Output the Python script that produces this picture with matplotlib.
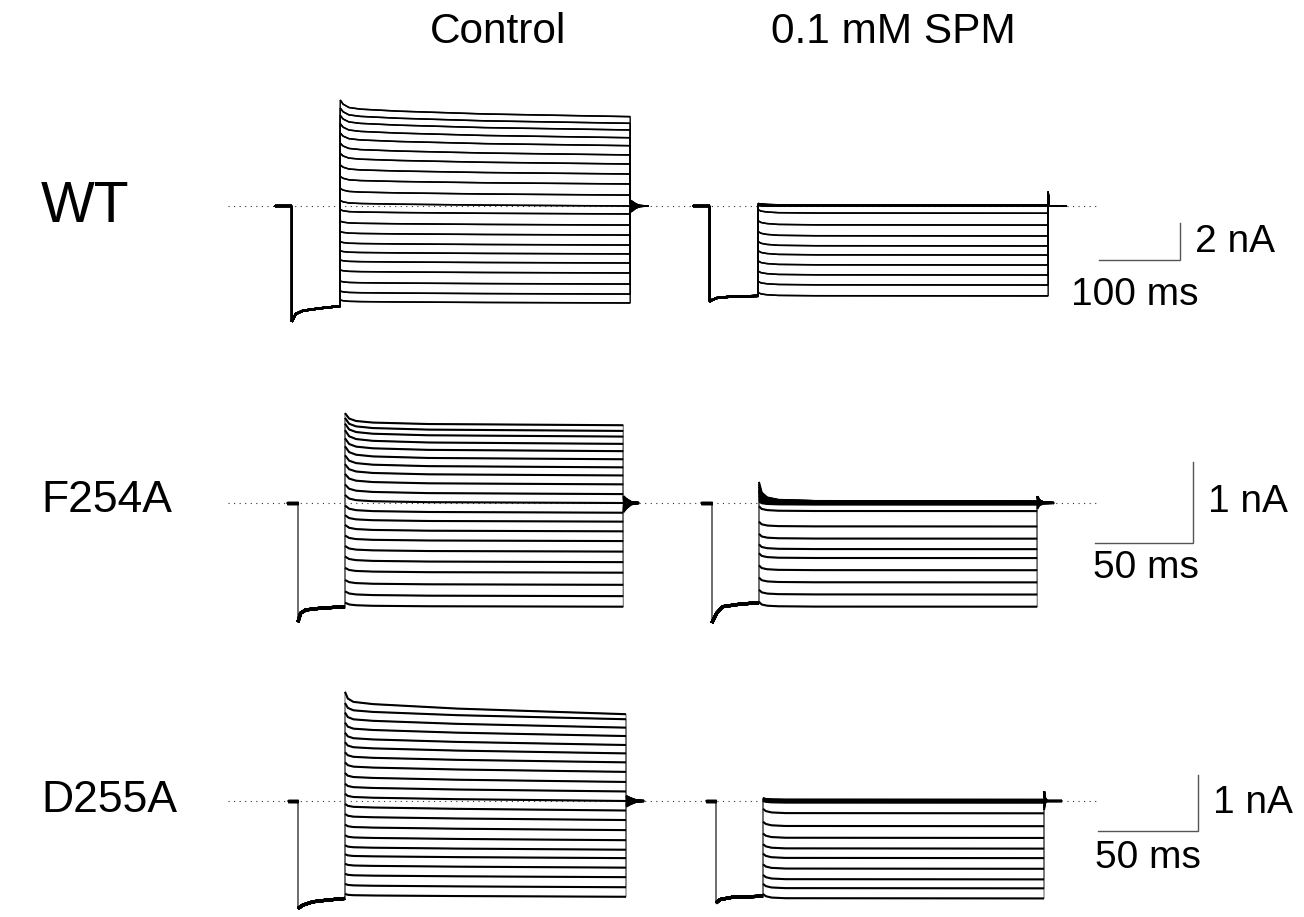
import numpy as np
import matplotlib
matplotlib.use("Agg")
import matplotlib.pyplot as plt

plt.rcParams['font.family'] = ['Liberation Sans', 'DejaVu Sans']

FIG_W, FIG_H, DPI = 1304, 917, 100

# ---------------------------------------------------------------------------
# Voltage protocol durations (ms): holding, prepulse, test pulse, return
# ---------------------------------------------------------------------------
wt_protocol = [20, 60, 358, 22]
f254a_protocol = [5.5, 24, 142, 8]
d255a_protocol = [5, 23.5, 140.5, 9]

# ---------------------------------------------------------------------------
# WT  (currents in nA)
# ---------------------------------------------------------------------------
wt_ctrl_pre_t = [0, 1.5, 5, 14, 35, 60]
wt_ctrl_pre_i = [-6.25, -6.15, -5.84, -5.66, -5.53, -5.41]
wt_ctrl_onset = [5.73, 5.30, 4.90, 4.45, 3.95, 3.40, 2.85, 2.22, 1.60, 0.95, 0.30,
                 -0.20, -0.82, -1.38, -1.93, -2.42, -2.92, -3.46, -4.06, -4.60, -5.08]
wt_ctrl_end = [4.83, 4.47, 4.11, 3.69, 3.26, 2.76, 2.27, 1.73, 1.19, 0.59, 0.00,
               -0.43, -1.03, -1.57, -2.11, -2.59, -3.08, -3.62, -4.22, -4.76, -5.24]
wt_ctrl_relax_t = [0, 0.01, 0.03, 0.07, 0.2, 0.5, 1.0]
wt_ctrl_relax_g = [1, 0.75, 0.55, 0.45, 0.33, 0.16, 0]
wt_ctrl_tail = (0.0, 0.065)              # offset, fraction of test current
wt_ctrl_post_t = [0, 3, 7, 12, 22]
wt_ctrl_post_h = [1, 0.75, 0.35, 0.08, 0]

wt_spm_pre_t = [0, 3, 10, 27, 60]
wt_spm_pre_i = [-5.17, -5.08, -4.96, -4.90, -4.86]
wt_spm_onset = [0.14, 0.13, 0.12, 0.11, 0.10, 0.09, 0.08, 0.07, 0.06, 0.05, 0.04, 0.03,
                -0.20, -0.80, -1.38, -1.92, -2.42, -2.97, -3.52, -4.08, -4.68]
wt_spm_end = [0.05, 0.05, 0.04, 0.04, 0.03, 0.03, 0.02, 0.02, 0.01, 0.01, 0.00, -0.01,
              -0.39, -1.03, -1.62, -2.16, -2.65, -3.19, -3.73, -4.27, -4.86]
wt_spm_relax_t = [0, 0.01, 0.03, 0.07, 0.2, 1.0]
wt_spm_relax_g = [1, 0.6, 0.35, 0.15, 0.05, 0]
wt_spm_tail = (0.76, 0.0)
wt_spm_post_t = [0, 0.8, 22]
wt_spm_post_h = [1, 0, 0]

# ---------------------------------------------------------------------------
# F254A
# ---------------------------------------------------------------------------
f254a_ctrl_pre_t = [0, 1.4, 4, 11, 24]
f254a_ctrl_pre_i = [-1.47, -1.36, -1.32, -1.30, -1.28]
f254a_ctrl_onset = [1.11, 1.05, 0.98, 0.90, 0.80, 0.70, 0.59, 0.48, 0.36, 0.23, 0.10,
                    -0.03, -0.15, -0.27, -0.40, -0.53, -0.66, -0.80, -0.95, -1.09, -1.23]
f254a_ctrl_end = [0.96, 0.89, 0.82, 0.73, 0.64, 0.54, 0.44, 0.34, 0.23, 0.11, 0.00,
                  -0.12, -0.23, -0.35, -0.47, -0.60, -0.73, -0.86, -1.01, -1.15, -1.28]
f254a_ctrl_relax_t = [0, 0.015, 0.04, 0.1, 0.3, 1.0]
f254a_ctrl_relax_g = [1, 0.55, 0.35, 0.22, 0.1, 0]
f254a_ctrl_tail = (0.0, 0.09)
f254a_ctrl_post_t = [0, 1.5, 4, 8]
f254a_ctrl_post_h = [1, 0.6, 0.15, 0]

f254a_spm_pre_t = [0, 2.5, 5.5, 14, 24]
f254a_spm_pre_i = [-1.48, -1.36, -1.28, -1.25, -1.23]
f254a_spm_onset = [0.26, 0.23, 0.20, 0.17, 0.15, 0.13, 0.11, 0.09, 0.07, 0.05, 0.04, 0.02,
                   -0.04, -0.23, -0.38, -0.51, -0.62, -0.77, -0.92, -1.07, -1.22]
f254a_spm_end = [0.02, 0.02, 0.02, 0.01, 0.01, 0.01, 0.01, 0.00, 0.00, 0.00, -0.01, -0.02,
                 -0.10, -0.29, -0.44, -0.57, -0.68, -0.83, -0.98, -1.13, -1.28]
f254a_spm_relax_t = [0, 0.01, 0.03, 0.07, 0.2, 1.0]
f254a_spm_relax_g = [1, 0.45, 0.2, 0.08, 0.02, 0]
f254a_spm_tail = (0.08, 0.12)
f254a_spm_post_t = [0, 1, 3, 8.5]
f254a_spm_post_h = [1, 0.4, 0.1, 0]

# ---------------------------------------------------------------------------
# D255A
# ---------------------------------------------------------------------------
d255a_ctrl_pre_t = [0, 2.4, 7.4, 14.4, 23.5]
d255a_ctrl_pre_i = [-1.92, -1.86, -1.80, -1.77, -1.74]
d255a_ctrl_onset = [1.95, 1.75, 1.58, 1.40, 1.22, 1.05, 0.87, 0.69, 0.50, 0.31, 0.13,
                    -0.05, -0.23, -0.42, -0.61, -0.79, -0.95, -1.12, -1.30, -1.48, -1.66]
d255a_ctrl_end = [1.55, 1.46, 1.31, 1.16, 1.00, 0.85, 0.69, 0.52, 0.34, 0.17, 0.00,
                  -0.17, -0.34, -0.52, -0.70, -0.87, -1.02, -1.19, -1.36, -1.54, -1.71]
d255a_ctrl_relax_t = [0, 0.01, 0.03, 0.1, 0.4, 1.0]
d255a_ctrl_relax_g = [1, 0.7, 0.55, 0.45, 0.25, 0]
d255a_ctrl_tail = (0.0, 0.06)
d255a_ctrl_post_t = [0, 2, 5, 9]
d255a_ctrl_post_h = [1, 0.6, 0.15, 0]

d255a_spm_pre_t = [0, 2, 8, 23.5]
d255a_spm_pre_i = [-1.82, -1.76, -1.72, -1.70]
d255a_spm_onset = [0.05, 0.05, 0.04, 0.04, 0.03, 0.03, 0.03, 0.02, 0.02, 0.01, 0.01, 0.00,
                   -0.14, -0.37, -0.58, -0.77, -0.94, -1.13, -1.32, -1.48, -1.66]
d255a_spm_end = [0.02, 0.02, 0.02, 0.01, 0.01, 0.01, 0.00, 0.00, 0.00, -0.01, -0.01, -0.03,
                 -0.22, -0.45, -0.66, -0.85, -1.02, -1.21, -1.40, -1.56, -1.74]
d255a_spm_relax_t = [0, 0.01, 0.03, 0.08, 1.0]
d255a_spm_relax_g = [1, 0.5, 0.2, 0.05, 0]
d255a_spm_tail = (0.17, 0.19)
d255a_spm_post_t = [0, 0.6, 1.5, 9]
d255a_spm_post_h = [1, 0.2, 0, 0]

# ---------------------------------------------------------------------------
# Text
# ---------------------------------------------------------------------------
column_titles = ["Control", "0.1 mM SPM"]
row_labels = ["WT", "F254A", "D255A"]
scale_bars = [(100, 2), (50, 1), (50, 1)]       # (ms, nA)


def build_traces(protocol, pre_t, pre_i, onset, end, relax_t, relax_g,
                 tail, post_t, post_h):
    """Return per-trace segments (holding, prepulse, test, return),
    time relative to test-pulse onset."""
    hold, pre, test, _ = protocol
    pre_t = np.asarray(pre_t, float)
    relax_t = np.asarray(relax_t, float)
    relax_g = np.asarray(relax_g, float)
    post_t = np.asarray(post_t, float)
    post_h = np.asarray(post_h, float)
    out = []
    for i0, i1 in zip(onset, end):
        seg_hold = (np.array([-hold - pre, -pre]), np.array([0.0, 0.0]))
        seg_pre = (pre_t - pre, np.asarray(pre_i, float))
        seg_test = (relax_t * test, i1 + (i0 - i1) * relax_g)
        amp = tail[0] + tail[1] * i1
        seg_post = (test + post_t, amp * post_h)
        out.append([seg_hold, seg_pre, seg_test, seg_post])
    return out


def draw_panel(ax, x0, segs, lw, step_lw, step_color, base_lw):
    for trace in segs:
        xs = np.concatenate([s[0] for s in trace]) + x0
        ys = np.concatenate([s[1] for s in trace])
        ax.plot(xs, ys, color=step_color, lw=step_lw, solid_joinstyle='miter', zorder=3)
        for k, (sx, sy) in enumerate(trace):
            w = base_lw if k in (0, 1) else lw
            ax.plot(sx + x0, sy, color='black', lw=w, solid_capstyle='butt', zorder=4)


fig = plt.figure(figsize=(FIG_W / DPI, FIG_H / DPI), dpi=DPI)
fig.patch.set_facecolor('white')


def row_axes(y_top, y_bot, base_y, px_per_nA, px_per_ms):
    ax = fig.add_axes([0, 1 - y_bot / FIG_H, 1, (y_bot - y_top) / FIG_H])
    ax.set_xlim(0, FIG_W / px_per_ms)
    ax.set_ylim(-(y_bot - base_y) / px_per_nA, (base_y - y_top) / px_per_nA)
    ax.axis('off')
    return ax


rows = [
    dict(axes=(60, 345, 206, 18.5, 0.81), onsets=(420, 936), dotted=(281.5, 1355.6),
         corner=(1456.8, -2.92), nA_xy=(1475.3, -1.92), ms_xy=(1401, -4.81),
         panels=[build_traces(wt_protocol, wt_ctrl_pre_t, wt_ctrl_pre_i, wt_ctrl_onset,
                              wt_ctrl_end, wt_ctrl_relax_t, wt_ctrl_relax_g, wt_ctrl_tail,
                              wt_ctrl_post_t, wt_ctrl_post_h),
                 build_traces(wt_protocol, wt_spm_pre_t, wt_spm_pre_i, wt_spm_onset,
                              wt_spm_end, wt_spm_relax_t, wt_spm_relax_g, wt_spm_tail,
                              wt_spm_post_t, wt_spm_post_h)],
         style=dict(lw=1.15, step_lw=1.0, step_color='black', base_lw=1.6)),
    dict(axes=(390, 645, 503, 81, 1.96), onsets=(176, 387.2), dotted=(116.3, 559.7),
         corner=(608.7, -0.49), nA_xy=(616.3, 0.01), ms_xy=(584.7, -0.80),
         panels=[build_traces(f254a_protocol, f254a_ctrl_pre_t, f254a_ctrl_pre_i,
                              f254a_ctrl_onset, f254a_ctrl_end, f254a_ctrl_relax_t,
                              f254a_ctrl_relax_g, f254a_ctrl_tail, f254a_ctrl_post_t,
                              f254a_ctrl_post_h),
                 build_traces(f254a_protocol, f254a_spm_pre_t, f254a_spm_pre_i,
                              f254a_spm_onset, f254a_spm_end, f254a_spm_relax_t,
                              f254a_spm_relax_g, f254a_spm_tail, f254a_spm_post_t,
                              f254a_spm_post_h)],
         style=dict(lw=1.5, step_lw=0.8, step_color='#707070', base_lw=2.2)),
    dict(axes=(660, 917, 801, 56, 2.0), onsets=(172.5, 381.5), dotted=(114, 548.5),
         corner=(599, -0.54), nA_xy=(606.5, -0.04), ms_xy=(574, -1.02),
         panels=[build_traces(d255a_protocol, d255a_ctrl_pre_t, d255a_ctrl_pre_i,
                              d255a_ctrl_onset, d255a_ctrl_end, d255a_ctrl_relax_t,
                              d255a_ctrl_relax_g, d255a_ctrl_tail, d255a_ctrl_post_t,
                              d255a_ctrl_post_h),
                 build_traces(d255a_protocol, d255a_spm_pre_t, d255a_spm_pre_i,
                              d255a_spm_onset, d255a_spm_end, d255a_spm_relax_t,
                              d255a_spm_relax_g, d255a_spm_tail, d255a_spm_post_t,
                              d255a_spm_post_h)],
         style=dict(lw=1.5, step_lw=0.8, step_color='#707070', base_lw=2.2)),
]

for row, (bar_ms, bar_nA) in zip(rows, scale_bars):
    ax = row_axes(*row['axes'])
    # zero-current reference
    ax.plot(row['dotted'], [0, 0], color='#333333', lw=0.8,
            linestyle=(0, (1, 4)), zorder=1)
    for x0, segs in zip(row['onsets'], row['panels']):
        draw_panel(ax, x0, segs, **row['style'])
    # scale bar
    cx, cy = row['corner']
    ax.plot([cx - bar_ms, cx, cx], [cy, cy, cy + bar_nA], color='#555555', lw=1.0,
            solid_joinstyle='miter')
    ax.text(*row['nA_xy'], f"{bar_nA:g} nA", ha='left', va='center', fontsize=28)
    ax.text(*row['ms_xy'], f"{bar_ms:g} ms", ha='center', va='center', fontsize=28)

# column titles and row labels
for title, xc in zip(column_titles, [498, 893]):
    fig.text(xc / FIG_W, 1 - 32 / FIG_H, title, ha='center', va='center', fontsize=30.5)
for label, yc, size in zip(row_labels, [207, 500, 800], [41, 32, 32]):
    fig.text(41 / FIG_W, 1 - yc / FIG_H, label, ha='left', va='center', fontsize=size)

fig.savefig('out.png', dpi=DPI, facecolor='white')
